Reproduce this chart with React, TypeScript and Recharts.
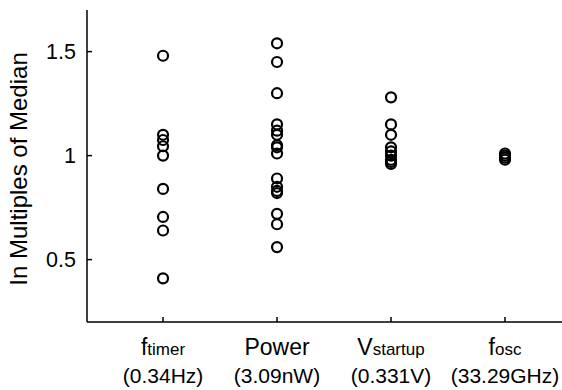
import { ScatterChart, Scatter, XAxis, YAxis } from 'recharts'

const FONT = '"Liberation Sans", Arial, Helvetica, sans-serif'

// categories: main symbol, subscript, unit line
const categories = [
  { main: 'f', sub: 'timer', unit: '(0.34Hz)' },
  { main: 'Power', sub: '', unit: '(3.09nW)' },
  { main: 'V', sub: 'startup', unit: '(0.331V)' },
  { main: 'f', sub: 'osc', unit: '(33.29GHz)' },
]

// values in multiples of the median
const fTimer = [1.48, 1.1, 1.075, 1.045, 1.0, 0.84, 0.705, 0.64, 0.41]
const power = [1.54, 1.45, 1.3, 1.15, 1.12, 1.1, 1.05, 1.04, 1.01, 0.89, 0.85, 0.83, 0.82, 0.72, 0.67, 0.56]
const vStartup = [1.28, 1.15, 1.1, 1.04, 1.02, 1.0, 0.98, 0.97, 0.96]
const fOsc = [1.01, 1.0, 0.99, 0.98]

const yTicks = [0.5, 1, 1.5]
const xTicks = [1, 2, 3, 4]
const yLabel = 'In Multiples of Median'

const series = [fTimer, power, vStartup, fOsc]
const points = series.flatMap((vals, i) => vals.map(v => ({ x: i + 1, y: v })))

const Ring = (props: any) => {
  const { cx, cy } = props
  if (cx == null || cy == null) return null
  return <circle cx={cx} cy={cy} r={5} fill="none" stroke="#000" strokeWidth={2.2} />
}

const YTick = (props: any) => {
  const { x, y, payload } = props
  return (
    <g>
      <line x1={x} x2={x + 5} y1={y} y2={y} stroke="#000" strokeWidth={1.5} />
      <text x={x - 11} y={y + 7.5} textAnchor="end" fontSize={21.5} fontFamily={FONT} fill="#000">
        {payload.value}
      </text>
    </g>
  )
}

const XTick = (props: any) => {
  const { x, y, payload } = props
  const c = categories[payload.value - 1]
  if (!c) return null
  return (
    <g>
      <line x1={x} x2={x} y1={y} y2={y - 5} stroke="#000" strokeWidth={1.5} />
      <text x={x} y={y + 33} textAnchor="middle" fontFamily={FONT} fill="#000">
        <tspan fontSize={23}>{c.main}</tspan>
        {c.sub && <tspan fontSize={17}>{c.sub}</tspan>}
      </text>
      <text x={x} y={y + 61} textAnchor="middle" fontSize={21} fontFamily={FONT} fill="#000">
        {c.unit}
      </text>
    </g>
  )
}

const YLabel = () => (
  <text
    x={27}
    y={169}
    transform="rotate(-90 27 169)"
    textAnchor="middle"
    fontSize={24}
    fontFamily={FONT}
    fill="#000"
  >
    {yLabel}
  </text>
)

export default function App() {
  return (
    <div style={{ position: 'absolute', left: 0, top: 0, background: '#fff' }}>
      <ScatterChart width={562} height={390} margin={{ top: 10, right: 0, bottom: 0, left: 0 }}>
        <XAxis
          type="number"
          dataKey="x"
          domain={[0.333, 4.5]}
          ticks={xTicks}
          height={68}
          tickSize={0}
          tickMargin={0}
          tickLine={false}
          tick={<XTick />}
          axisLine={{ stroke: '#000', strokeWidth: 1.5 }}
          allowDataOverflow
        />
        <YAxis
          type="number"
          dataKey="y"
          domain={[0.2, 1.7]}
          ticks={yTicks}
          width={87}
          tickSize={0}
          tickMargin={0}
          tickLine={false}
          tick={<YTick />}
          axisLine={{ stroke: '#000', strokeWidth: 1.5 }}
          allowDataOverflow
          label={<YLabel />}
        />
        <Scatter data={points} shape={<Ring />} isAnimationActive={false} />
      </ScatterChart>
    </div>
  )
}
